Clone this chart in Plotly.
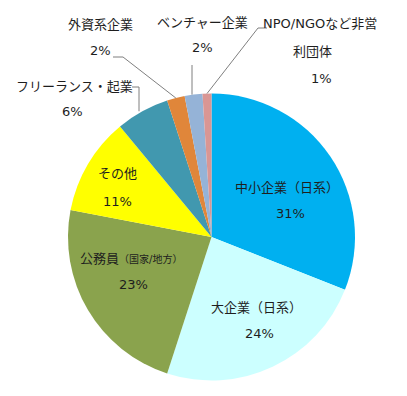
import math
import plotly.graph_objects as go

# ---- data ----
categories = ["中小企業（日系）", "大企業（日系）", "公務員（国家/地方）", "その他",
              "フリーランス・起業", "外資系企業", "ベンチャー企業", "NPO/NGOなど非営利団体"]
values = [31, 24, 23, 11, 6, 2, 2, 1]
colors = ["#00B0F0", "#CCFFFF", "#8AA34D", "#FFFF00", "#4198AF", "#E0863A", "#95B3D7", "#D99694"]

# label text lines as drawn (category line(s), then percentage)
label_lines = [
    ["中小企業（日系）"],
    ["大企業（日系）"],
    ["公務員<span style='font-size:10px'>（国家/地方）</span>"],
    ["その他"],
    ["フリーランス・起業"],
    ["外資系企業"],
    ["ベンチャー企業"],
    ["NPO/NGOなど非営", "利団体"],
]

# page body has an 8px margin; figure sized so it fits the window exactly
OFF = 8
W, H = 407 - OFF, 396 - OFF
FONT = "DejaVu Sans, Noto Sans CJK JP, sans-serif"
TXT = "#1E1E1E"

# pie placement (screen pixels)
cx, cy, R = 211.5, 237.0, 143.5

def px(x):
    return (x - OFF) / W

def py(y):
    return 1 - (y - OFF) / H

fig = go.Figure(go.Pie(
    labels=categories, values=values, sort=False, direction="clockwise", rotation=0,
    marker=dict(colors=colors, line=dict(width=0)),
    textinfo="none", hoverinfo="label+percent", showlegend=False,
    domain=dict(x=[px(cx - R), px(cx + R)], y=[py(cy + R), py(cy - R)]),
))

# label layout: (category line centers..., percent center) in screen pixels
label_pos = [
    [(287, 187), (290, 213)],
    [(256, 307), (259, 333)],
    [(131, 258), (133, 284)],
    [(117, 173), (117, 201)],
    [(74, 87), (72, 112)],
    [(100, 25), (100, 50)],
    [(202, 23), (202, 48)],
    [(320, 24), (312, 51), (321, 78)],
]

annotations = []
for lines, pos, v in zip(label_lines, label_pos, values):
    texts = lines + [f"{v}%"]
    for t, (x, y) in zip(texts, pos):
        annotations.append(dict(
            text=t, x=px(x), y=py(y), xref="paper", yref="paper",
            xanchor="center", yanchor="middle", showarrow=False,
            font=dict(family=FONT, size=13, color=TXT),
        ))

# leader lines: elbow points (label side) to slice edge at mid angle (computed from data)
total = sum(values)
cum = [sum(values[:i]) for i in range(len(values))]

def edge_point(i):
    mid = (cum[i] + values[i] / 2) / total * 2 * math.pi
    return cx + R * math.sin(mid), cy - R * math.cos(mid)

leaders = {
    4: [(132, 87), (139, 87)],
    5: [(113, 57), (123, 57)],
    6: [(192, 65)],
    7: [(267, 28), (258, 28)],
}

shapes = []
for i, pts in leaders.items():
    ex, ey = edge_point(i)
    if i in (4, 6):
        path_pts = pts + [(pts[-1][0], ey)]
    else:
        path_pts = pts + [(ex, ey)]
    d = "M " + " L ".join(f"{px(x)},{py(y)}" for x, y in path_pts)
    shapes.append(dict(type="path", path=d, xref="paper", yref="paper",
                       line=dict(color="#7F7F7F", width=1)))

fig.update_layout(
    width=W, height=H, margin=dict(l=0, r=0, t=0, b=0),
    paper_bgcolor="white", plot_bgcolor="white",
    annotations=annotations, shapes=shapes,
    font=dict(family=FONT),
)

fig.write_html("out.html")
